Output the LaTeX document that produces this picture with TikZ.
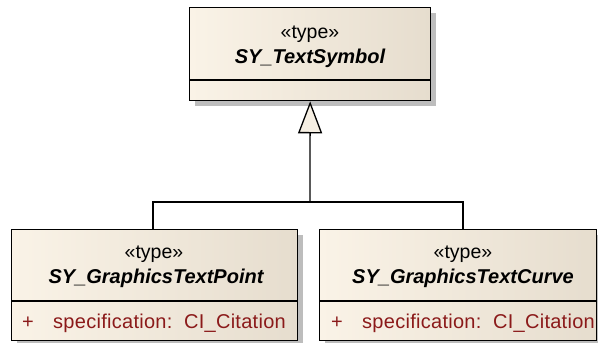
\documentclass[tikz,border=0pt]{standalone}
\usepackage{fontspec}
\setmainfont{Liberation Sans}
\newfontfamily\attrfont[LetterSpace=1.4]{Liberation Sans}
\usetikzlibrary{arrows.meta,shadows}
\definecolor{boxL}{HTML}{FAF3E7}
\definecolor{boxR}{HTML}{E6DDCE}
\definecolor{attr}{HTML}{8B1A1A}
\definecolor{shade}{HTML}{BDBDBD}
\definecolor{tri}{HTML}{F6EFE3}
\begin{document}
\begin{tikzpicture}[x=1pt,y=-1pt,
  classbox/.style={rectangle, draw=black, line width=1.3pt, inner sep=0pt,
    left color=boxL, right color=boxR, anchor=north west,
    drop shadow={shadow xshift=5pt, shadow yshift=-5pt, fill=shade, opacity=1}},
  stereo/.style={anchor=base, inner sep=0pt, font=\fontsize{19.5}{23}\selectfont},
  cname/.style={anchor=base, inner sep=0pt, font=\fontsize{20}{24}\selectfont\bfseries\itshape},
  attrtext/.style={anchor=base west, inner sep=0pt, text=attr, font=\fontsize{20}{24}\attrfont},
  divider/.style={line width=1.3pt},
  link/.style={line width=1.3pt}
]
\useasboundingbox (0,0) rectangle (598,343);

% supertype
\node[classbox, minimum width=241pt, minimum height=93pt] (sym) at (189,7) {};
\draw[divider] (sym.west |- 0,80) -- (sym.east |- 0,80);
\node[stereo] (symS) at (310,38) {«type»};
\node[cname] (symN) at (310,63) {SY\_TextSymbol};

% subtypes
\node[classbox, minimum width=286pt, minimum height=111pt] (pt) at (11,229) {};
\draw[divider] (pt.west |- 0,301) -- (pt.east |- 0,301);
\node[stereo] (ptS) at (154,258) {«type»};
\node[cname] (ptN) at (156,283) {SY\_GraphicsTextPoint};
\node[attrtext] (ptP) at (22,328) {+};
\node[attrtext] (ptA) at (53,328) {specification:\ \ CI\_Citation};

\node[classbox, minimum width=277pt, minimum height=111pt] (cv) at (319,229) {};
\draw[divider] (cv.west |- 0,301) -- (cv.east |- 0,301);
\node[stereo] (cvS) at (463,258) {«type»};
\node[cname] (cvN) at (463,283) {SY\_GraphicsTextCurve};
\node[attrtext] (cvP) at (331,328) {+};
\node[attrtext] (cvA) at (362,328) {specification:\ \ CI\_Citation};

% generalization
\coordinate (join) at (310,202);
\draw[link] (pt.north -| 153,0) |- (join);
\draw[link] (cv.north -| 463,0) |- (join);
\draw[link, -{Triangle[length=32pt, width=24pt, fill=tri]}] (join) -- (sym.south);
\end{tikzpicture}
\end{document}
